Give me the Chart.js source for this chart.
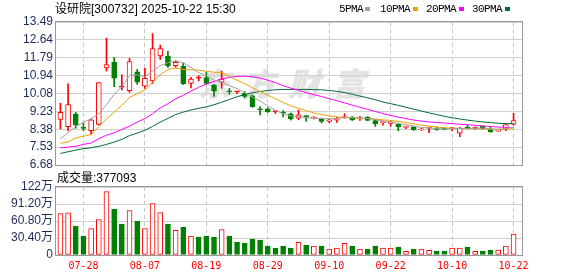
<!DOCTYPE html>
<html><head><meta charset="utf-8">
<script src="https://cdn.jsdelivr.net/npm/chart.js@4.4.1/dist/chart.umd.min.js"></script>
<style>
html,body{margin:0;padding:0;background:#fff;width:578px;height:276px;overflow:hidden;position:relative;font-family:"Liberation Sans","Noto Sans CJK SC",sans-serif;}
canvas{position:absolute;left:0;}
#cPrice{top:0;}
#cVol{top:168px;}
.t{position:absolute;white-space:nowrap;color:#000;}
.lg{position:absolute;top:3px;font-family:"Liberation Mono",monospace;font-size:11px;letter-spacing:-0.6px;line-height:12px;color:#000;}
.bx{position:absolute;top:7px;width:5px;height:4px;}
#wm{position:absolute;left:198px;top:62px;font-family:"Noto Sans CJK SC",sans-serif;font-weight:900;font-style:italic;font-size:32px;letter-spacing:13px;color:#e3e3e3;line-height:40px;}
</style></head>
<body>
<div id="wm">东方财富</div>
<canvas id="cPrice" width="578" height="176"></canvas>
<canvas id="cVol" width="578" height="108"></canvas>
<div class="t" style="left:55px;top:2px;font-size:12px;line-height:14px;">设研院[300732] 2025-10-22 15:30</div>
<span class="lg" style="left:339px;">5PMA</span><span class="bx" style="left:365px;background:#a0a0a0;"></span>
<span class="lg" style="left:380px;">10PMA</span><span class="bx" style="left:413px;background:#f0a000;"></span>
<span class="lg" style="left:426px;">20PMA</span><span class="bx" style="left:459px;background:#ff00ff;"></span>
<span class="lg" style="left:472px;">30PMA</span><span class="bx" style="left:505px;background:#006b35;"></span>
<div class="t" style="left:57px;top:171px;font-size:12px;line-height:14px;">成交量:377093</div>
<script>
const dates = ['07-23','07-24','07-25','07-28','07-29','07-30','07-31','08-01','08-04','08-05',
 '08-06','08-07','08-08','08-11','08-12','08-13','08-14','08-15','08-18','08-19',
 '08-20','08-21','08-22','08-25','08-26','08-27','08-28','08-29','09-01','09-02',
 '09-03','09-04','09-05','09-08','09-09','09-10','09-11','09-12','09-15','09-16',
 '09-17','09-18','09-19','09-22','09-23','09-24','09-25','09-26','09-29','09-30',
 '10-09','10-10','10-13','10-14','10-15','10-16','10-17','10-20','10-21','10-22'];
const opens = [8.85,8.51,9.10,8.47,8.32,8.61,11.30,11.57,10.39,10.22,
 11.12,10.44,10.68,11.88,11.85,11.41,11.38,10.57,10.81,10.84,
 10.49,10.62,10.20,10.16,10.09,9.97,9.35,9.35,9.22,9.19,
 9.12,8.91,9.02,8.92,8.88,8.75,8.82,8.94,8.96,8.88,
 8.96,8.80,8.70,8.66,8.62,8.47,8.50,8.35,8.43,8.42,
 8.44,8.41,8.19,8.47,8.41,8.52,8.38,8.29,8.41,8.63];
const highs = [9.62,10.54,9.19,8.68,8.87,10.60,12.72,11.80,10.98,11.76,
 11.23,11.28,12.94,12.39,12.09,11.65,11.53,10.85,10.93,11.09,
 10.52,11.15,10.33,10.16,10.17,10.02,9.46,9.40,9.23,9.27,
 9.16,9.30,9.03,8.98,8.91,8.86,8.96,9.12,8.99,9.00,
 8.98,8.82,8.73,8.75,8.65,8.53,8.52,8.43,8.49,8.49,
 8.46,8.47,8.47,8.57,8.50,8.54,8.47,8.36,8.61,9.14];
const lows = [8.40,8.32,8.43,8.31,8.16,8.58,11.15,10.41,10.25,10.14,
 10.52,10.33,10.56,11.70,11.33,11.33,10.51,10.35,10.68,10.52,
 9.94,10.33,10.05,10.08,9.87,9.43,9.06,9.18,9.13,8.97,
 8.82,8.83,8.76,8.88,8.68,8.70,8.71,8.91,8.80,8.80,
 8.79,8.52,8.58,8.52,8.31,8.41,8.33,8.32,8.22,8.33,
 8.36,8.30,8.03,8.40,8.38,8.38,8.24,8.28,8.32,8.57];
const closes = [9.19,9.56,8.59,8.42,8.83,10.60,11.46,10.82,10.39,11.60,
 10.62,10.81,12.23,12.23,11.41,11.57,10.54,10.77,10.81,10.57,
 10.20,10.77,10.17,10.16,9.94,9.46,9.31,9.22,9.22,9.15,
 8.87,9.07,8.98,8.95,8.76,8.83,8.87,8.99,8.83,8.92,
 8.80,8.64,8.73,8.73,8.50,8.52,8.36,8.39,8.45,8.38,
 8.38,8.44,8.44,8.41,8.47,8.41,8.25,8.35,8.60,8.79];
const ma5 = [7.94,8.22,8.50,8.72,8.88,9.12,9.55,10.05,10.40,10.95,
 10.98,10.88,11.15,11.40,11.55,11.63,11.55,11.32,11.08,10.93,
 10.72,10.62,10.45,10.32,10.12,9.92,9.72,9.50,9.28,9.12,
 9.02,8.99,8.94,8.90,8.89,8.88,8.90,8.93,8.95,8.92,
 8.89,8.84,8.78,8.74,8.66,8.60,8.53,8.47,8.44,8.42,
 8.40,8.41,8.42,8.41,8.43,8.44,8.40,8.38,8.42,8.48];
const ma10 = [7.71,7.78,7.97,8.05,8.13,8.50,8.88,9.20,9.52,9.90,
 10.08,10.25,10.62,10.98,11.22,11.30,11.23,11.21,11.20,11.14,
 11.10,11.08,10.90,10.72,10.55,10.36,10.18,10.00,9.84,9.66,
 9.50,9.38,9.27,9.16,9.08,9.02,8.97,8.95,8.93,8.91,
 8.89,8.87,8.83,8.80,8.76,8.70,8.64,8.58,8.53,8.49,
 8.45,8.43,8.42,8.41,8.41,8.40,8.38,8.38,8.39,8.41];
const ma20 = [7.50,7.53,7.57,7.66,7.73,7.93,8.10,8.21,8.37,8.53,
 8.72,8.89,9.12,9.40,9.60,9.83,10.00,10.20,10.38,10.54,
 10.66,10.78,10.85,10.90,10.91,10.88,10.82,10.72,10.60,10.46,
 10.34,10.24,10.13,10.03,9.94,9.84,9.74,9.64,9.53,9.43,
 9.33,9.23,9.13,9.04,8.96,8.89,8.82,8.77,8.73,8.70,
 8.68,8.65,8.62,8.60,8.57,8.54,8.51,8.49,8.47,8.46];
const ma30 = [7.23,7.31,7.39,7.46,7.50,7.57,7.66,7.77,7.90,8.08,
 8.20,8.33,8.52,8.72,8.90,9.08,9.20,9.30,9.38,9.45,
 9.55,9.67,9.80,9.93,10.03,10.12,10.18,10.23,10.26,10.28,
 10.28,10.28,10.28,10.27,10.26,10.23,10.19,10.13,10.05,9.96,
 9.88,9.79,9.68,9.60,9.52,9.43,9.34,9.25,9.16,9.08,
 9.00,8.93,8.87,8.82,8.77,8.73,8.70,8.67,8.65,8.65];
// volume in 万手
const volumes = [74.4,75.6,51.8,33.9,47.6,63.7,113.7,82.2,55.4,79.8,
 60.7,47.6,92.3,76.2,55.4,44.1,50.0,33.9,32.1,33.9,
 32.1,45.8,33.9,23.2,21.4,28.6,26.8,16.1,12.5,16.1,
 12.5,22.6,17.9,16.1,16.1,10.7,12.5,20.8,16.1,10.7,
 10.7,16.1,12.5,12.5,14.3,6.5,10.7,10.7,8.3,7.1,
 7.1,12.5,12.5,14.3,6.5,7.1,8.9,8.9,16.1,37.71];
const priceTicks = [6.68,7.53,8.38,9.23,10.08,10.94,11.79,12.64,13.49];
const volTicks = [0,30.4,60.8,91.2,122];
const volTickLabels = ['0','30.40万','60.80万','91.20万','122万'];
const xTickIdx = [3,11,19,27,35,43,51,59];

const RED = '#ff0000', GREEN = '#008000';
const idx = dates.map((_, i) => i);
const up = idx.map(i => closes[i] >= opens[i]);
const flat = idx.map(i => closes[i] === opens[i]);
const volUp = idx.map(i => closes[i] > opens[i]);
const xMin = -0.573, xMax = 60.1;
const LABEL_FONT = {family: '"Liberation Sans","Noto Sans CJK SC",sans-serif', size: 12};

function xScale(showLabels) {
  return {
    type: 'linear', min: xMin, max: xMax, offset: false,
    afterBuildTicks: s => { s.ticks = xTickIdx.map(v => ({value: v})); },
    afterFit: s => { s.height = showLabels ? 21 : 0; },
    grid: {color: '#c8c8c8', lineWidth: 1, drawTicks: false, offset: false, borderDash: [4, 3]},
    border: {display: false, dash: [4, 3]},
    ticks: {display: showLabels, autoSkip: false, maxRotation: 0, padding: 5, color: RED,
      font: {family: '"DejaVu Sans Mono",monospace', size: 10},
      callback: v => dates[v]}
  };
}
const frame = {
  id: 'frame',
  afterDatasetsDraw(c) {
    const a = c.chartArea, x = c.ctx;
    x.save(); x.strokeStyle = '#999'; x.lineWidth = 1;
    x.strokeRect(Math.round(a.left) - 0.5, Math.round(a.top) - 0.5,
      Math.round(a.right - a.left) + 1, Math.round(a.bottom - a.top) + 1);
    x.restore();
  }
};
const common = {responsive: false, maintainAspectRatio: false, animation: false, devicePixelRatio: 1, events: [],
  plugins: {legend: {display: false}, tooltip: {enabled: false}}};
const pts = arr => idx.map(i => ({x: i, y: arr[i]}));
const maLine = (arr, color) => ({type: 'line', data: pts(arr), borderColor: color, borderWidth: 1,
  pointRadius: 0, tension: 0, order: 1});

new Chart(document.getElementById('cPrice'), {
  type: 'bar',
  data: {datasets: [
    maLine(ma5, '#a0a0a0'), maLine(ma10, '#f0a000'), maLine(ma20, '#ff00ff'), maLine(ma30, '#006b35'),
    {type: 'bar', data: idx.map(i => ({x: i, y: [opens[i], closes[i]]})),
      backgroundColor: idx.map(i => up[i] ? (flat[i] ? RED : '#ffffff') : GREEN),
      borderColor: idx.map(i => up[i] ? RED : GREEN),
      borderWidth: 1, borderSkipped: false, barThickness: 5, minBarLength: 1, grouped: false, order: 5},
    {type: 'bar', data: idx.map(i => ({x: i, y: [lows[i], highs[i]]})),
      backgroundColor: idx.map(i => up[i] ? RED : GREEN),
      borderWidth: 0, barThickness: 1, grouped: false, order: 6}
  ]},
  options: Object.assign({}, common, {
    layout: {padding: {top: 22, right: 56, bottom: 11, left: 0}},
    scales: {
      x: xScale(false),
      y: {min: 6.68, max: 13.49,
        afterBuildTicks: s => { s.ticks = priceTicks.map(v => ({value: v})); },
        afterFit: s => { s.width = 56; },
        grid: {color: '#d0d0d0', drawTicks: false}, border: {display: false},
        ticks: {padding: 3, autoSkip: false, color: '#1c2c5c', font: LABEL_FONT, callback: v => v.toFixed(2)}}
    }
  }),
  plugins: [frame]
});

new Chart(document.getElementById('cVol'), {
  type: 'bar',
  data: {datasets: [
    {data: idx.map(i => ({x: i, y: volumes[i]})),
      backgroundColor: idx.map(i => volUp[i] ? '#ffffff' : GREEN),
      borderColor: idx.map(i => volUp[i] ? RED : GREEN),
      borderWidth: 1, borderSkipped: false, barThickness: 5, grouped: false}
  ]},
  options: Object.assign({}, common, {
    layout: {padding: {top: 19, right: 56, bottom: 0, left: 0}},
    scales: {
      x: xScale(true),
      y: {min: 0, max: 122,
        afterBuildTicks: s => { s.ticks = volTicks.map(v => ({value: v})); },
        afterFit: s => { s.width = 56; },
        grid: {color: '#d0d0d0', drawTicks: false}, border: {display: false},
        ticks: {padding: 3, autoSkip: false, color: '#1c2c5c', font: LABEL_FONT, callback: (v, i) => volTickLabels[i]}}
    }
  }),
  plugins: [frame]
});
</script>
</body></html>
